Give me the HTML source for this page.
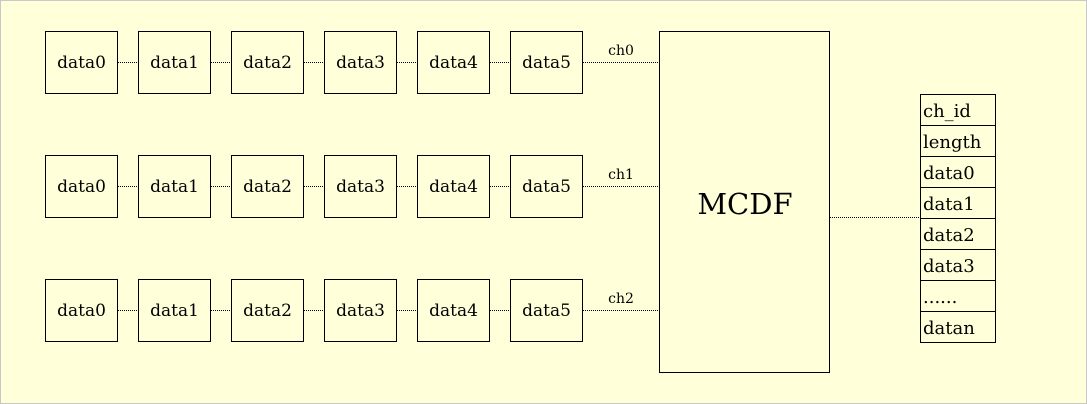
<!DOCTYPE html>
<html><head><meta charset="utf-8"><style>
html,body{margin:0;padding:0;background:#fff}
svg{display:block}
text{font-family:"DejaVu Serif","Liberation Serif",serif;fill:#000}
</style></head><body>
<svg id="d" width="1087" height="404" viewBox="0 0 1087 404">
<rect x="0.5" y="0.5" width="1086" height="403" fill="#ffffd9" stroke="#c8c8c8"/>
<rect x="659.5" y="31.5" width="170" height="341" fill="none" stroke="#000"/>
<text x="745" y="214" font-size="29" text-anchor="middle">MCDF</text>
<line x1="830" y1="217.5" x2="920" y2="217.5" stroke="#000" stroke-dasharray="1,1"/>
</svg>
<script>
const channels=['ch0','ch1','ch2'];
const items=['data0','data1','data2','data3','data4','data5'];
const fields=['ch_id','length','data0','data1','data2','data3','......','datan'];
const svg=document.getElementById('d');
const NS='http://www.w3.org/2000/svg';
function mk(t,a){const e=document.createElementNS(NS,t);for(const k in a)e.setAttribute(k,a[k]);svg.appendChild(e);return e;}
channels.forEach((ch,r)=>{
  const y=31+r*124;
  items.forEach((it,c)=>{
    const x=45+c*93;
    const b=mk('rect',{x:x+0.5,y:y+0.5,width:72,height:62,fill:'none',stroke:'#000'});
    
    
    const t=mk('text',{x:x+36.5,y:y+37,'font-size':17,'text-anchor':'middle'});
    t.textContent=it;
    
    
    if(c<items.length-1){
      const l=mk('line',{x1:x+73,y1:y+31.5,x2:x+93,y2:y+31.5,stroke:'#000','stroke-dasharray':'1,1'});
      
      
    }
  });
  const l=mk('line',{x1:583,y1:y+31.5,x2:659,y2:y+31.5,stroke:'#000','stroke-dasharray':'1,1'});
  
  
  const t=mk('text',{x:621,y:y+24,'font-size':14,'text-anchor':'middle'});
  t.textContent=ch;
  
  
});
fields.forEach((f,i)=>{
  const y=94+i*31;
  const b=mk('rect',{x:920.5,y:y+0.5,width:75,height:31,fill:'none',stroke:'#000'});
  
  
  const t=mk('text',{x:923,y:y+23,'font-size':18});
  t.textContent=f;
  
  
});
</script>
</body></html>
